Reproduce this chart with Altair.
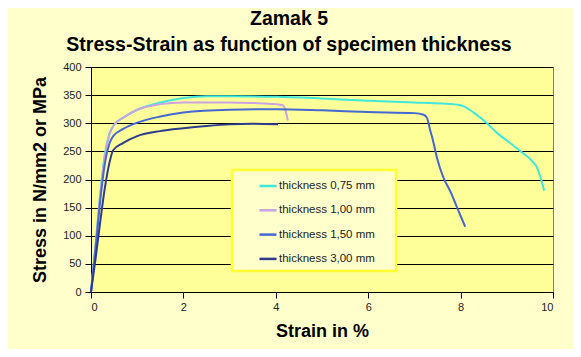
import altair as alt
import pandas as pd

series_names = ["thickness 0,75 mm", "thickness 1,00 mm", "thickness 1,50 mm", "thickness 3,00 mm"]
series_colors = ["#40E8DC", "#C8A4E4", "#4668D4", "#2E3A8C"]

x_075 = [0, 0.1, 0.2, 0.3, 0.4, 0.5, 0.7, 1.0, 1.5, 2.0, 2.5, 3.0, 4.0, 5.0, 6.0, 7.0, 7.6, 8.0, 8.3, 8.57, 8.8, 9.07, 9.3, 9.57, 9.65, 9.81]
y_075 = [0, 85, 175, 245, 282, 297, 310, 324, 337, 345, 348, 348, 347, 344, 340, 337, 335, 332, 318, 300, 282, 265, 250, 231, 222, 180]

x_100 = [0, 0.1, 0.2, 0.3, 0.4, 0.5, 0.7, 1.0, 1.5, 2.0, 3.0, 3.5, 4.0, 4.15, 4.22, 4.26]
y_100 = [0, 82, 172, 242, 280, 297, 310, 324, 334, 337, 337, 336, 334, 332, 320, 305]

x_150 = [0, 0.1, 0.2, 0.3, 0.4, 0.48, 0.7, 1.0, 1.5, 2.0, 3.0, 4.0, 5.0, 6.0, 7.0, 7.2, 7.27, 7.35, 7.4, 7.5, 7.62, 7.8, 7.92, 8.1]
y_150 = [0, 78, 163, 228, 264, 277, 290, 301, 312, 319, 324, 325, 323, 320, 318, 315, 310, 285, 270, 235, 205, 175, 151, 116]

x_300 = [0, 0.1, 0.2, 0.3, 0.4, 0.48, 0.7, 1.0, 1.5, 2.0, 2.5, 3.0, 3.5, 4.05]
y_300 = [0, 60, 125, 185, 230, 252, 265, 277, 286, 291, 295, 298, 299, 298]

rows = []
for name, xs, ys in zip(series_names, [x_075, x_100, x_150, x_300], [y_075, y_100, y_150, y_300]):
    for i, (xv, yv) in enumerate(zip(xs, ys)):
        rows.append({"series": name, "strain": xv, "stress": yv, "idx": i})
df = pd.DataFrame(rows)

FONT = "Liberation Sans"

chart = alt.Chart(df).mark_line(strokeWidth=2, interpolate="monotone").encode(
    x=alt.X("strain:Q", scale=alt.Scale(domain=[0, 10], nice=False),
            axis=alt.Axis(title="Strain in %", values=[0, 2, 4, 6, 8, 10], grid=False,
                          tickSize=6, labelPadding=3, titlePadding=10)),
    y=alt.Y("stress:Q", scale=alt.Scale(domain=[0, 400], nice=False),
            axis=alt.Axis(title="Stress in N/mm2 or MPa", values=list(range(0, 401, 50)),
                          grid=True, tickSize=6, labelPadding=4, titlePadding=13)),
    color=alt.Color("series:N", scale=alt.Scale(domain=series_names, range=series_colors),
                    legend=alt.Legend(title="\u00a0", titleOrient="right", titlePadding=15,
                                      titleFontSize=4,
                                      orient="none", legendX=141, legendY=103)),
    order="idx:Q",
).properties(
    width=462,
    height=225,
    title=alt.TitleParams(["Zamak 5", "Stress-Strain as function of specimen thickness"],
                          font=FONT, fontSize=19.5, fontWeight="bold", color="#000000",
                          lineHeight=26, anchor="middle", dx=-33, offset=6),
    autosize=alt.AutoSizeParams(type="none"),
    padding={"left": 83, "top": 59, "right": 20, "bottom": 57},
    background="#FFFFCC",
).configure_view(
    stroke="#808080", fill="#FFFF99", strokeWidth=1
).configure_axis(
    labelFont=FONT, labelFontSize=11, labelColor="#222222",
    titleFont=FONT, titleFontSize=18, titleFontWeight="bold", titleColor="#000000",
    domainColor="#000000", tickColor="#000000", gridColor="#000000", gridOpacity=1,
    gridWidth=1, domainWidth=1,
).configure_legend(
    fillColor="#FFFFCC", strokeColor="#FFFF33", strokeWidth=2.5, padding=6,
    labelFont=FONT, labelFontSize=11.5, labelColor="#222222",
    symbolType="stroke", symbolSize=289, symbolStrokeWidth=2.5, symbolOffset=20,
    rowPadding=8.3, labelOffset=1,
)

chart.save("out.html", embed_options={"renderer": "svg", "actions": False})
